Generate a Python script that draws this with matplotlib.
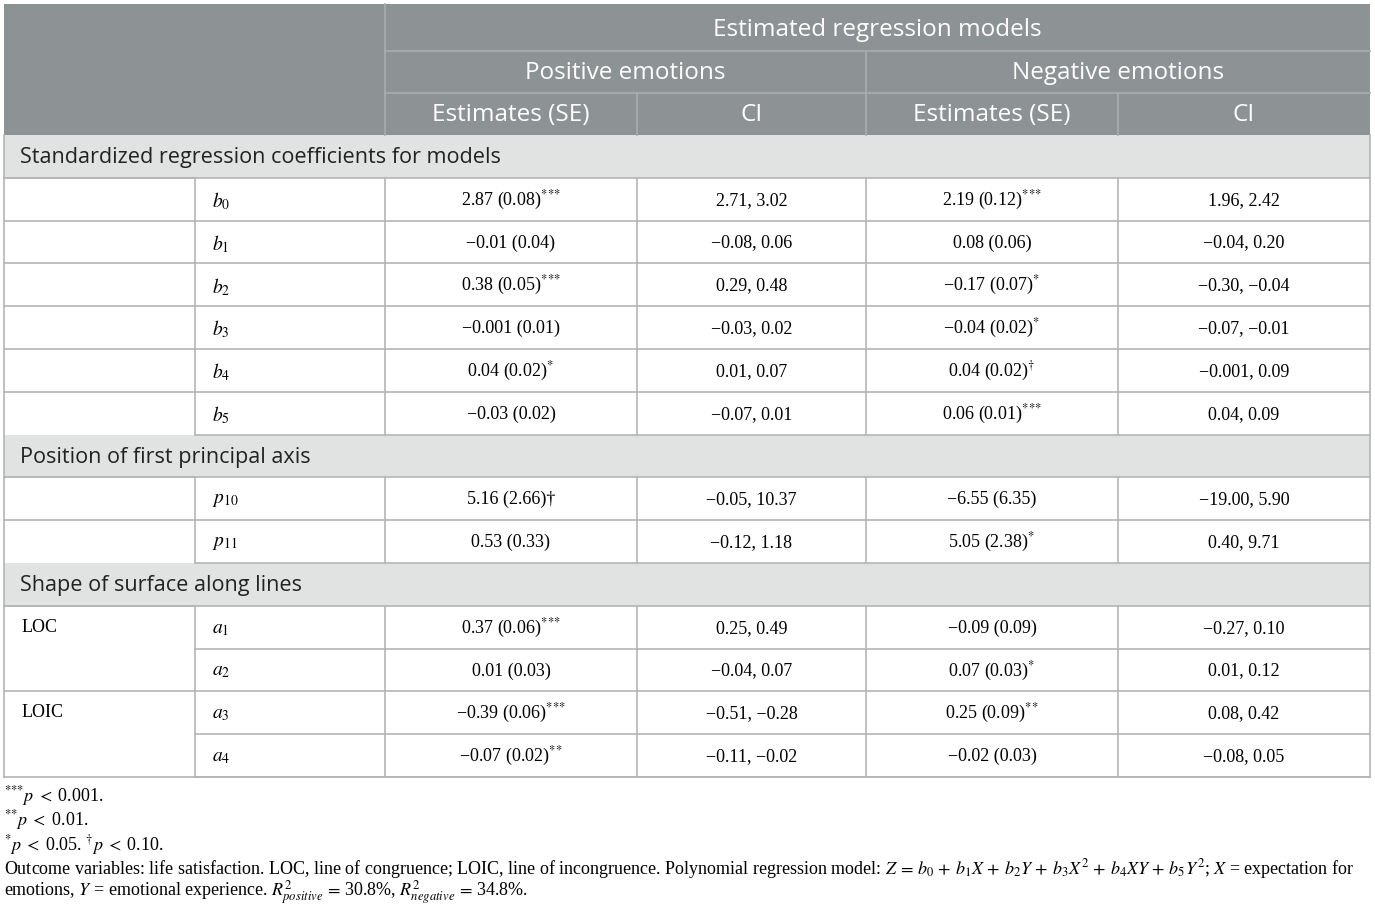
import matplotlib
matplotlib.use("Agg")
import matplotlib.pyplot as plt
from matplotlib.patches import Rectangle

plt.rcParams['mathtext.fontset'] = 'stix'

S3 = "$^{{*}{*}{*}}$"
S2 = "$^{{*}{*}}$"
S1 = "$^{*}$"
DG = "$^{\\dagger}$"
M = "\u2212"

# table content
top_header = "Estimated regression models"
group_headers = ["Positive emotions", "Negative emotions"]
col_headers = ["Estimates (SE)", "CI", "Estimates (SE)", "CI"]

section_titles = ["Standardized regression coefficients for models",
                  "Position of first principal axis",
                  "Shape of surface along lines"]
section_params = [[r"$b_0$", r"$b_1$", r"$b_2$", r"$b_3$", r"$b_4$", r"$b_5$"],
                  [r"$p_{10}$", r"$p_{11}$"],
                  [r"$a_1$", r"$a_2$", r"$a_3$", r"$a_4$"]]
section_groups = [["", "", "", "", "", ""],
                  ["", ""],
                  ["LOC", None, "LOIC", None]]

pos_est = ["2.87 (0.08)" + S3, M + "0.01 (0.04)", "0.38 (0.05)" + S3,
           M + "0.001 (0.01)", "0.04 (0.02)" + S1, M + "0.03 (0.02)",
           "5.16 (2.66)\u2020", "0.53 (0.33)",
           "0.37 (0.06)" + S3, "0.01 (0.03)", M + "0.39 (0.06)" + S3,
           M + "0.07 (0.02)" + S2]
pos_ci = ["2.71, 3.02", M + "0.08, 0.06", "0.29, 0.48", M + "0.03, 0.02",
          "0.01, 0.07", M + "0.07, 0.01",
          M + "0.05, 10.37", M + "0.12, 1.18",
          "0.25, 0.49", M + "0.04, 0.07", M + "0.51, " + M + "0.28",
          M + "0.11, " + M + "0.02"]
neg_est = ["2.19 (0.12)" + S3, "0.08 (0.06)", M + "0.17 (0.07)" + S1,
           M + "0.04 (0.02)" + S1, "0.04 (0.02)" + DG, "0.06 (0.01)" + S3,
           M + "6.55 (6.35)", "5.05 (2.38)" + S1,
           M + "0.09 (0.09)", "0.07 (0.03)" + S1, "0.25 (0.09)" + S2,
           M + "0.02 (0.03)"]
neg_ci = ["1.96, 2.42", M + "0.04, 0.20", M + "0.30, " + M + "0.04",
          M + "0.07, " + M + "0.01", M + "0.001, 0.09", "0.04, 0.09",
          M + "19.00, 5.90", "0.40, 9.71",
          M + "0.27, 0.10", "0.01, 0.12", "0.08, 0.42", M + "0.08, 0.05"]

footnotes = [S3 + r"$p\;<\;$0.001.",
             S2 + r"$p\;<\;$0.01.",
             S1 + r"$p\;<\;$0.05. " + DG + r"$p\;<\;$0.10.",
             "Outcome variables: life satisfaction. LOC, line of congruence; LOIC, line of incongruence. "
             r"Polynomial regression model: $Z\,=\,b_0\,+\,b_1X\,+\,b_2Y\,+\,b_3X^2\,+\,b_4XY\,+\,b_5Y^2$; "
             r"$X$ = expectation for",
             r"emotions, $Y$ = emotional experience. $R^2_{positive}\,=\,$30.8%, $R^2_{negative}\,=\,$34.8%."]

# layout (pixels)
W, H = 1375, 913
col_x = [4, 195, 385, 637, 866, 1118, 1370]
top = 4
head_h = [47, 42, 42]
row_h = 42.8

header_bg = "#8d9294"
header_line = "#a9adaf"
section_bg = "#e1e3e3"
grid = "#b4b6b6"
serif = "Liberation Serif"
sans = "Open Sans"

fig = plt.figure(figsize=(W / 100, H / 100), dpi=100)
ax = fig.add_axes([0, 0, 1, 1])
ax.set_xlim(0, W)
ax.set_ylim(H, 0)
ax.axis("off")

left, right = col_x[0], col_x[-1]

# header block
hy = [top]
for h in head_h:
    hy.append(hy[-1] + h)
ax.add_patch(Rectangle((left, hy[0]), right - left, hy[-1] - hy[0],
                       facecolor=header_bg, edgecolor="none"))
ax.plot([col_x[2], right], [hy[1], hy[1]], color=header_line, lw=1.2)
ax.plot([col_x[2], right], [hy[2], hy[2]], color=header_line, lw=1.2)
ax.plot([col_x[2], col_x[2]], [hy[0], hy[3]], color=header_line, lw=1.2)
ax.plot([col_x[4], col_x[4]], [hy[1], hy[3]], color=header_line, lw=1.2)
ax.plot([col_x[3], col_x[3]], [hy[2], hy[3]], color=header_line, lw=1.2)
ax.plot([col_x[5], col_x[5]], [hy[2], hy[3]], color=header_line, lw=1.2)

hsize = 17.5
ax.text((col_x[2] + right) / 2, (hy[0] + hy[1]) / 2 + 3, top_header, color="white",
        fontsize=hsize, family=sans, ha="center", va="center")
for i, g in enumerate(group_headers):
    x0, x1 = col_x[2 + 2 * i], col_x[4 + 2 * i]
    ax.text((x0 + x1) / 2, (hy[1] + hy[2]) / 2 + 1, g, color="white",
            fontsize=hsize, family=sans, ha="center", va="center")
for i, c in enumerate(col_headers):
    x0, x1 = col_x[2 + i], col_x[3 + i]
    ax.text((x0 + x1) / 2, (hy[2] + hy[3]) / 2 + 1, c, color="white",
            fontsize=hsize, family=sans, ha="center", va="center")

# body
y = hy[3]
k = 0
dsize = 13
ssize = 15.6
for s, title in enumerate(section_titles):
    ax.add_patch(Rectangle((left, y), right - left, row_h,
                           facecolor=section_bg, edgecolor="none"))
    ax.text(20, y + row_h / 2 + 1, title, fontsize=ssize, family=sans,
            color="#222222", ha="left", va="center")
    ax.plot([left, right], [y + row_h, y + row_h], color=grid, lw=1.2)
    y += row_h
    for p, grp in zip(section_params[s], section_groups[s]):
        yc = y + row_h / 2
        if grp is not None:
            ax.plot([left, col_x[1]], [y, y], color=grid, lw=1.2)
            if grp:
                ax.text(22, yc, grp, fontsize=dsize, family=serif, ha="left", va="center")
        ax.plot([col_x[1], right], [y + row_h, y + row_h], color=grid, lw=1.2)
        ax.text(col_x[1] + 17, yc + 2, p, fontsize=dsize + 1, family=serif,
                ha="left", va="center")
        vals = [pos_est[k], pos_ci[k], neg_est[k], neg_ci[k]]
        for j, v in enumerate(vals):
            ax.text((col_x[2 + j] + col_x[3 + j]) / 2, yc + 1, v, fontsize=dsize,
                    family=serif, ha="center", va="center")
        for xv in col_x[1:-1]:
            ax.plot([xv, xv], [y, y + row_h], color=grid, lw=1.2)
        y += row_h
        k += 1
bottom = y
ax.plot([left, right], [bottom, bottom], color=grid, lw=1.2)
ax.plot([left, left], [hy[3], bottom], color=grid, lw=1.2)
ax.plot([right, right], [hy[3], bottom], color=grid, lw=1.2)

# footnotes
fy = bottom + 19
for line in footnotes:
    ax.text(4, fy, line, fontsize=13, family=serif, ha="left", va="center")
    fy += 24.3

fig.savefig("out.png", dpi=100)
